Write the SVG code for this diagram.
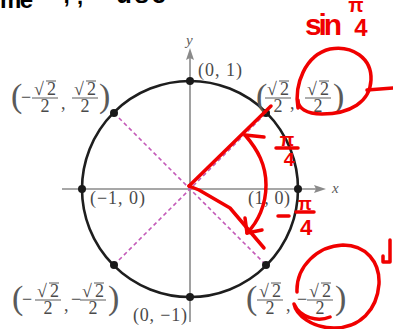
<svg xmlns="http://www.w3.org/2000/svg" xmlns:xlink="http://www.w3.org/1999/xlink" width="393" height="329" viewBox="0 0 393 329">
<style>
.lbl{font-family:"Liberation Serif",serif;font-size:18px;fill:#4a4a4a}
.fn{font-family:"Liberation Serif",serif;font-size:18px;fill:#4a4a4a}
.par{font-family:"Liberation Serif",serif;font-size:34px;fill:#5a5a5a}
.fb{stroke:#5a5a5a;stroke-width:1}
.ax{stroke:#8a8a8a;stroke-width:1.6;fill:none}
.axh{fill:#8a8a8a}
.axl{font-family:"Liberation Serif",serif;font-style:italic;font-size:15px;fill:#5a5a5a}
.dash{stroke:#c45ab8;stroke-width:1.6;stroke-dasharray:4 3;fill:none}
.dot{fill:#1a1a1a}
.red{stroke:#f00000;stroke-width:3.5;fill:none;stroke-linecap:round;stroke-linejoin:round}
.rt{font-family:"Liberation Sans",sans-serif;font-weight:bold;fill:#f00000}
.bk{font-family:"Liberation Sans",sans-serif;font-weight:bold;fill:#000}
</style>
<defs>
<g id="frac">
<text class="fn" x="0" y="-3" text-anchor="middle" textLength="22">√2</text>
<line class="fb" x1="1" y1="-17" x2="11" y2="-17"/>
<line class="fb" x1="-13" y1="0" x2="13" y2="0"/>
<text class="fn" x="0" y="14" text-anchor="middle">2</text>
</g>
</defs>
<rect width="393" height="329" fill="#fff"/>
<g id="scribble-top">
<text class="bk" x="0" y="8" font-size="24" textLength="33">me</text>
<text class="bk" x="63" y="3" font-size="22">;</text>
<text class="bk" x="77" y="4" font-size="22">,</text>
<text class="bk" x="116" y="3" font-size="26" textLength="50">use</text>
</g>
<g id="axes">
<line class="ax" x1="62" y1="189" x2="318" y2="189"/>
<path class="axh" d="M326 189 L314 185 L316 189 L314 193 Z"/>
<line class="ax" x1="190" y1="322" x2="190" y2="56"/>
<path class="axh" d="M190 48 L186 60 L190 58 L194 60 Z"/>
<text class="axl" x="332" y="193">x</text>
<text class="axl" x="186" y="45">y</text>
</g>
<g id="connectors">
<line class="dash" x1="114" y1="113" x2="266" y2="265"/>
<line class="dash" x1="114" y1="265" x2="266" y2="113"/>
</g>
<g id="circle">
<circle cx="190" cy="189" r="108" fill="none" stroke="#1e1e1e" stroke-width="2.6"/>
</g>
<g id="p-0-1"><circle class="dot" cx="190" cy="81" r="4"/><text class="lbl" x="198" y="76" textLength="44">(0, 1)</text></g>
<g id="p-m1-0"><circle class="dot" cx="82" cy="189" r="4"/><text class="lbl" x="90" y="204" textLength="55">(−1, 0)</text></g>
<g id="p-1-0"><circle class="dot" cx="298" cy="189" r="4"/><text class="lbl" x="248" y="204" textLength="42">(1, 0)</text></g>
<g id="p-0-m1"><circle class="dot" cx="190" cy="297" r="4"/><text class="lbl" x="133" y="321" textLength="54">(0, −1)</text></g>
<g id="p-ul"><circle class="dot" cx="114" cy="113" r="4"/>
<text class="par" x="11" y="107">(</text>
<text class="fn" x="21" y="103">−</text>
<use xlink:href="#frac" x="45" y="98"/>
<text class="fn" x="61" y="109">,</text>
<use xlink:href="#frac" x="85" y="98"/>
<text class="par" x="99" y="107">)</text>
</g>
<g id="p-ur"><circle class="dot" cx="266" cy="113" r="4"/>
<text class="par" x="256" y="107">(</text>
<use xlink:href="#frac" x="278" y="98"/>
<text class="fn" x="290" y="109">,</text>
<use xlink:href="#frac" x="318" y="98"/>
<text class="par" x="333" y="107">)</text>
</g>
<g id="p-ll"><circle class="dot" cx="114" cy="265" r="4"/>
<text class="par" x="12" y="309">(</text>
<text class="fn" x="22" y="305">−</text>
<use xlink:href="#frac" x="48" y="300"/>
<text class="fn" x="64" y="311">,</text>
<text class="fn" x="71" y="305">−</text>
<use xlink:href="#frac" x="93" y="300"/>
<text class="par" x="108" y="309">)</text>
</g>
<g id="p-lr"><circle class="dot" cx="266" cy="265" r="4"/>
<text class="par" x="246" y="309">(</text>
<use xlink:href="#frac" x="270" y="300"/>
<text class="fn" x="286" y="311">,</text>
<text class="fn" x="297" y="305">−</text>
<use xlink:href="#frac" x="320" y="300"/>
<text class="par" x="335" y="309">)</text>
</g>
<g id="annotations">
<path class="red" d="M189 186 L271 106"/>
<path class="red" d="M189 186 L199 190 L230 208 L264 248"/>
<path class="red" d="M264 137 L245 135 C258 150 266 165 266 185 C266 205 258 222 247 233"/>
<path class="red" d="M245 218 L247 233 L262 230"/>
<path class="red" d="M298 108 C294 85 305 55 330 49 C352 45 372 58 371 80 C370 102 350 114 322 114 C306 114 298 108 298 100"/>
<path class="red" d="M367 90 L393 88"/>
<path class="red" d="M297 292 C296 266 318 246 343 245 C366 245 380 262 379 284 C377 310 360 328 334 328 C312 328 296 315 294 304 C300 318 318 322 330 317"/>
<path class="red" d="M390 240 L390 262 L383 262 L383 256"/>
<line class="red" x1="278" y1="216" x2="289" y2="216"/>
<line class="red" x1="296" y1="212" x2="314" y2="212"/>
<line class="red" x1="276" y1="148" x2="298" y2="148"/>
<text class="rt" x="305" y="35" font-size="30" textLength="37">sin</text>
<text class="rt" x="356" y="12" font-size="20" text-anchor="middle">π</text>
<text class="rt" x="361" y="36" font-size="24" text-anchor="middle">4</text>
<text class="rt" x="287" y="146" font-size="19" text-anchor="middle">π</text>
<text class="rt" x="289" y="166" font-size="19" text-anchor="middle">4</text>
<text class="rt" x="305" y="210" font-size="18" text-anchor="middle">π</text>
<text class="rt" x="306" y="235" font-size="22" text-anchor="middle">4</text>
</g>
</svg>
